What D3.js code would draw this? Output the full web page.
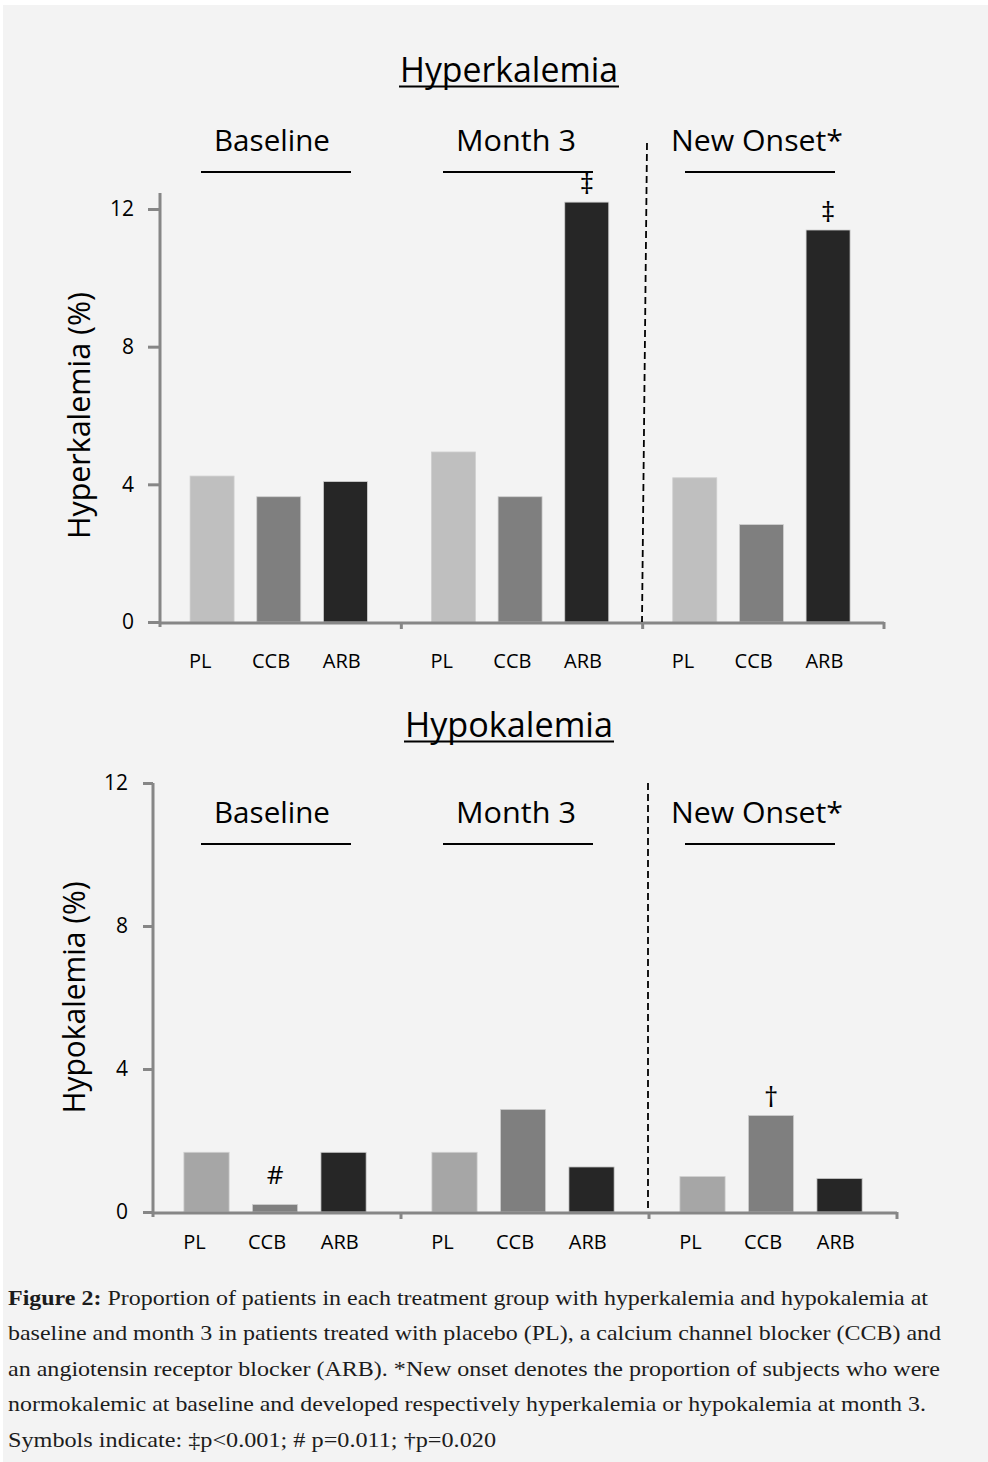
<!DOCTYPE html>
<html>
<head>
<meta charset="utf-8">
<script src="https://cdn.jsdelivr.net/npm/d3@7"></script>
<style>
  body { margin: 0; background: #fff; }
  svg text { font-family: "Open Sans", "DejaVu Sans", sans-serif; fill: #000; }
  .caption { font-family: "Liberation Serif", "DejaVu Serif", serif !important; fill: #1c1c1c; }
</style>
</head>
<body>
<script>
// data (percent of patients)
const groups = ["Baseline", "Month 3", "New Onset*"];
const treatments = ["PL", "CCB", "ARB"];
const yTicks = [0, 4, 8, 12];

const hyperPL = [4.24, 4.94, 4.19];
const hyperCCB = [3.64, 3.64, 2.83];
const hyperARB = [4.08, 12.2, 11.39];

const hypoPL = [1.67, 1.67, 0.99];
const hypoCCB = [0.21, 2.87, 2.70];
const hypoARB = [1.67, 1.26, 0.94];

const hyperSymbols = [["Month 3", "ARB", "\u2021"], ["New Onset*", "ARB", "\u2021"]];
const hypoSymbols = [["Baseline", "CCB", "#"], ["New Onset*", "CCB", "\u2020"]];

const captionLines = [
  "Proportion of patients in each treatment group with hyperkalemia and hypokalemia at",
  "baseline and month 3 in patients treated with placebo (PL), a calcium channel blocker (CCB) and",
  "an angiotensin receptor blocker (ARB). *New onset denotes the proportion of subjects who were",
  "normokalemic at baseline and developed respectively hyperkalemia or hypokalemia at month 3.",
  "Symbols indicate: \u2021p<0.001;  # p=0.011; \u2020p=0.020"
];

const width = 988, height = 1462;
const axisColor = "#868686";

const svg = d3.select("body").append("svg")
  .attr("width", width)
  .attr("height", height);

svg.append("rect").attr("width", width).attr("height", height).attr("fill", "#fff");
svg.append("rect").attr("x", 3).attr("y", 5).attr("width", width - 3).attr("height", height - 5).attr("fill", "#f3f3f3");

const panels = [
  {
    title: "Hyperkalemia", titleY: 82, titleLen: 218,
    ylabel: "Hyperkalemia (%)", ylabelX: 90, ylabelLen: 247,
    x0: 160, x1: 884, yTop: 209, yBot: 622, axisExt: 16,
    tickSize: 12, tickPad: 14, labelOff: 46,
    groupTitleY: 151, dash: [647, 143, 642],
    colors: ["#bfbfbf", "#7f7f7f", "#262626"],
    series: [hyperPL, hyperCCB, hyperARB], symbols: hyperSymbols
  },
  {
    title: "Hypokalemia", titleY: 737, titleLen: 208,
    ylabel: "Hypokalemia (%)", ylabelX: 85, ylabelLen: 232,
    x0: 153, x1: 897, yTop: 783, yBot: 1212, axisExt: 0,
    tickSize: 10, tickPad: 15, labelOff: 37,
    groupTitleY: 823, dash: [648, 783, 648],
    colors: ["#a6a6a6", "#7f7f7f", "#262626"],
    series: [hypoPL, hypoCCB, hypoARB], symbols: hypoSymbols
  }
];

// title centres / underline positions are the same for both panels
const groupTitleX = [272, 516, 757];
const groupTitleLen = [116, 120, 172];
const underlineX = [[201, 351], [443, 593], [685, 835]];

panels.forEach(p => {
  const g = svg.append("g");

  const y = d3.scaleLinear().domain([0, 12]).range([p.yBot, p.yTop]);
  const outer = d3.scaleBand().domain(groups).range([p.x0, p.x1]).padding(0);
  const inner = d3.scaleBand().domain(treatments)
    .range([0, outer.bandwidth()])
    .paddingInner(0.34).paddingOuter(0.48).align(0.47);
  // category text sits a little left of the bars, as in the original
  const labelPos = d3.scalePoint().domain(treatments)
    .range([outer.bandwidth() * 0.167, outer.bandwidth() * 0.753]);

  const rows = [];
  groups.forEach((grp, gi) => {
    treatments.forEach((t, ti) => {
      rows.push({ group: grp, t: t, ti: ti, v: p.series[ti][gi] });
    });
  });

  // bars
  g.selectAll("rect.bar")
    .data(rows)
    .enter()
    .append("rect")
    .attr("class", "bar")
    .attr("x", d => outer(d.group) + inner(d.t))
    .attr("y", d => y(d.v))
    .attr("width", inner.bandwidth())
    .attr("height", d => y(0) - y(d.v))
    .attr("fill", d => p.colors[d.ti])
    .attr("stroke", "#cfcfcf")
    .attr("stroke-width", 0.8);

  // y axis
  const yAxis = d3.axisLeft(y)
    .tickValues(yTicks)
    .tickSize(p.tickSize)
    .tickPadding(p.tickPad)
    .tickSizeOuter(0);
  const ya = g.append("g")
    .attr("transform", `translate(${p.x0},0)`)
    .call(yAxis);
  ya.select(".domain").remove();
  ya.selectAll(".tick line").attr("stroke", axisColor).attr("stroke-width", 3);
  ya.selectAll(".tick text").attr("font-size", 21).attr("font-family", "Open Sans");
  g.append("line")
    .attr("x1", p.x0).attr("x2", p.x0)
    .attr("y1", y(12) - p.axisExt).attr("y2", y(0) + 5)
    .attr("stroke", axisColor).attr("stroke-width", 3);

  // x axis line + group boundary ticks
  g.append("line")
    .attr("x1", p.x0).attr("x2", p.x1)
    .attr("y1", y(0) + 1).attr("y2", y(0) + 1)
    .attr("stroke", axisColor).attr("stroke-width", 3);
  g.selectAll("line.gtick")
    .data(groups)
    .enter()
    .append("line")
    .attr("x1", d => outer(d) + outer.bandwidth())
    .attr("x2", d => outer(d) + outer.bandwidth())
    .attr("y1", y(0)).attr("y2", y(0) + 7)
    .attr("stroke", axisColor).attr("stroke-width", 3);

  // category labels
  g.selectAll("text.cat")
    .data(rows)
    .enter()
    .append("text")
    .attr("x", d => outer(d.group) + labelPos(d.t))
    .attr("y", y(0) + p.labelOff)
    .attr("text-anchor", "middle")
    .attr("font-size", 20)
    .text(d => d.t);

  // significance symbols
  g.selectAll("text.sym")
    .data(p.symbols)
    .enter()
    .append("text")
    .attr("x", d => outer(d[0]) + inner(d[1]) + inner.bandwidth() / 2)
    .attr("y", d => {
      const gi = groups.indexOf(d[0]), ti = treatments.indexOf(d[1]);
      return y(p.series[ti][gi]) - (d[2] === "#" ? 20 : 8);
    })
    .attr("text-anchor", "middle")
    .attr("font-family", "DejaVu Sans")
    .attr("font-size", d => d[2] === "#" ? 26 : 28)
    .text(d => d[2]);

  // dashed separator
  g.append("line")
    .attr("x1", p.dash[0]).attr("y1", p.dash[1])
    .attr("x2", p.dash[2]).attr("y2", y(0))
    .attr("stroke", "#000").attr("stroke-width", 1.8)
    .attr("stroke-dasharray", "7,4");

  // group titles with underlines
  groups.forEach((grp, i) => {
    g.append("text")
      .attr("x", groupTitleX[i])
      .attr("y", p.groupTitleY)
      .attr("text-anchor", "middle")
      .attr("font-size", 30)
      .attr("textLength", groupTitleLen[i])
      .attr("lengthAdjust", "spacingAndGlyphs")
      .text(grp);
    g.append("line")
      .attr("x1", underlineX[i][0]).attr("x2", underlineX[i][1])
      .attr("y1", p.groupTitleY + 21).attr("y2", p.groupTitleY + 21)
      .attr("stroke", "#000").attr("stroke-width", 2);
  });

  // panel title, underlined
  g.append("text")
    .attr("x", 509)
    .attr("y", p.titleY)
    .attr("text-anchor", "middle")
    .attr("font-size", 34)
    .attr("textLength", p.titleLen)
    .attr("lengthAdjust", "spacingAndGlyphs")
    .text(p.title);
  g.append("line")
    .attr("x1", 509 - p.titleLen / 2 - 1).attr("x2", 509 + p.titleLen / 2 + 1)
    .attr("y1", p.titleY + 4.5).attr("y2", p.titleY + 4.5)
    .attr("stroke", "#000").attr("stroke-width", 2);

  // y title
  g.append("text")
    .attr("transform", `translate(${p.ylabelX},${(p.yTop + p.yBot) / 2}) rotate(-90)`)
    .attr("text-anchor", "middle")
    .attr("font-size", 31)
    .attr("textLength", p.ylabelLen)
    .attr("lengthAdjust", "spacingAndGlyphs")
    .text(p.ylabel);
});

// caption
const capEnds = [928, 941, 940, 926, 496];
const cap = svg.append("g");
captionLines.forEach((line, i) => {
  const t = cap.append("text")
    .attr("class", "caption")
    .attr("x", 8)
    .attr("y", 1305 + i * 35.4)
    .attr("font-size", 21)
    .attr("textLength", capEnds[i] - 8)
    .attr("lengthAdjust", "spacingAndGlyphs");
  if (i === 0) {
    t.append("tspan").attr("font-weight", "bold").text("Figure 2:");
    t.append("tspan").text(" " + line);
  } else {
    t.text(line);
  }
});
</script>
</body>
</html>
